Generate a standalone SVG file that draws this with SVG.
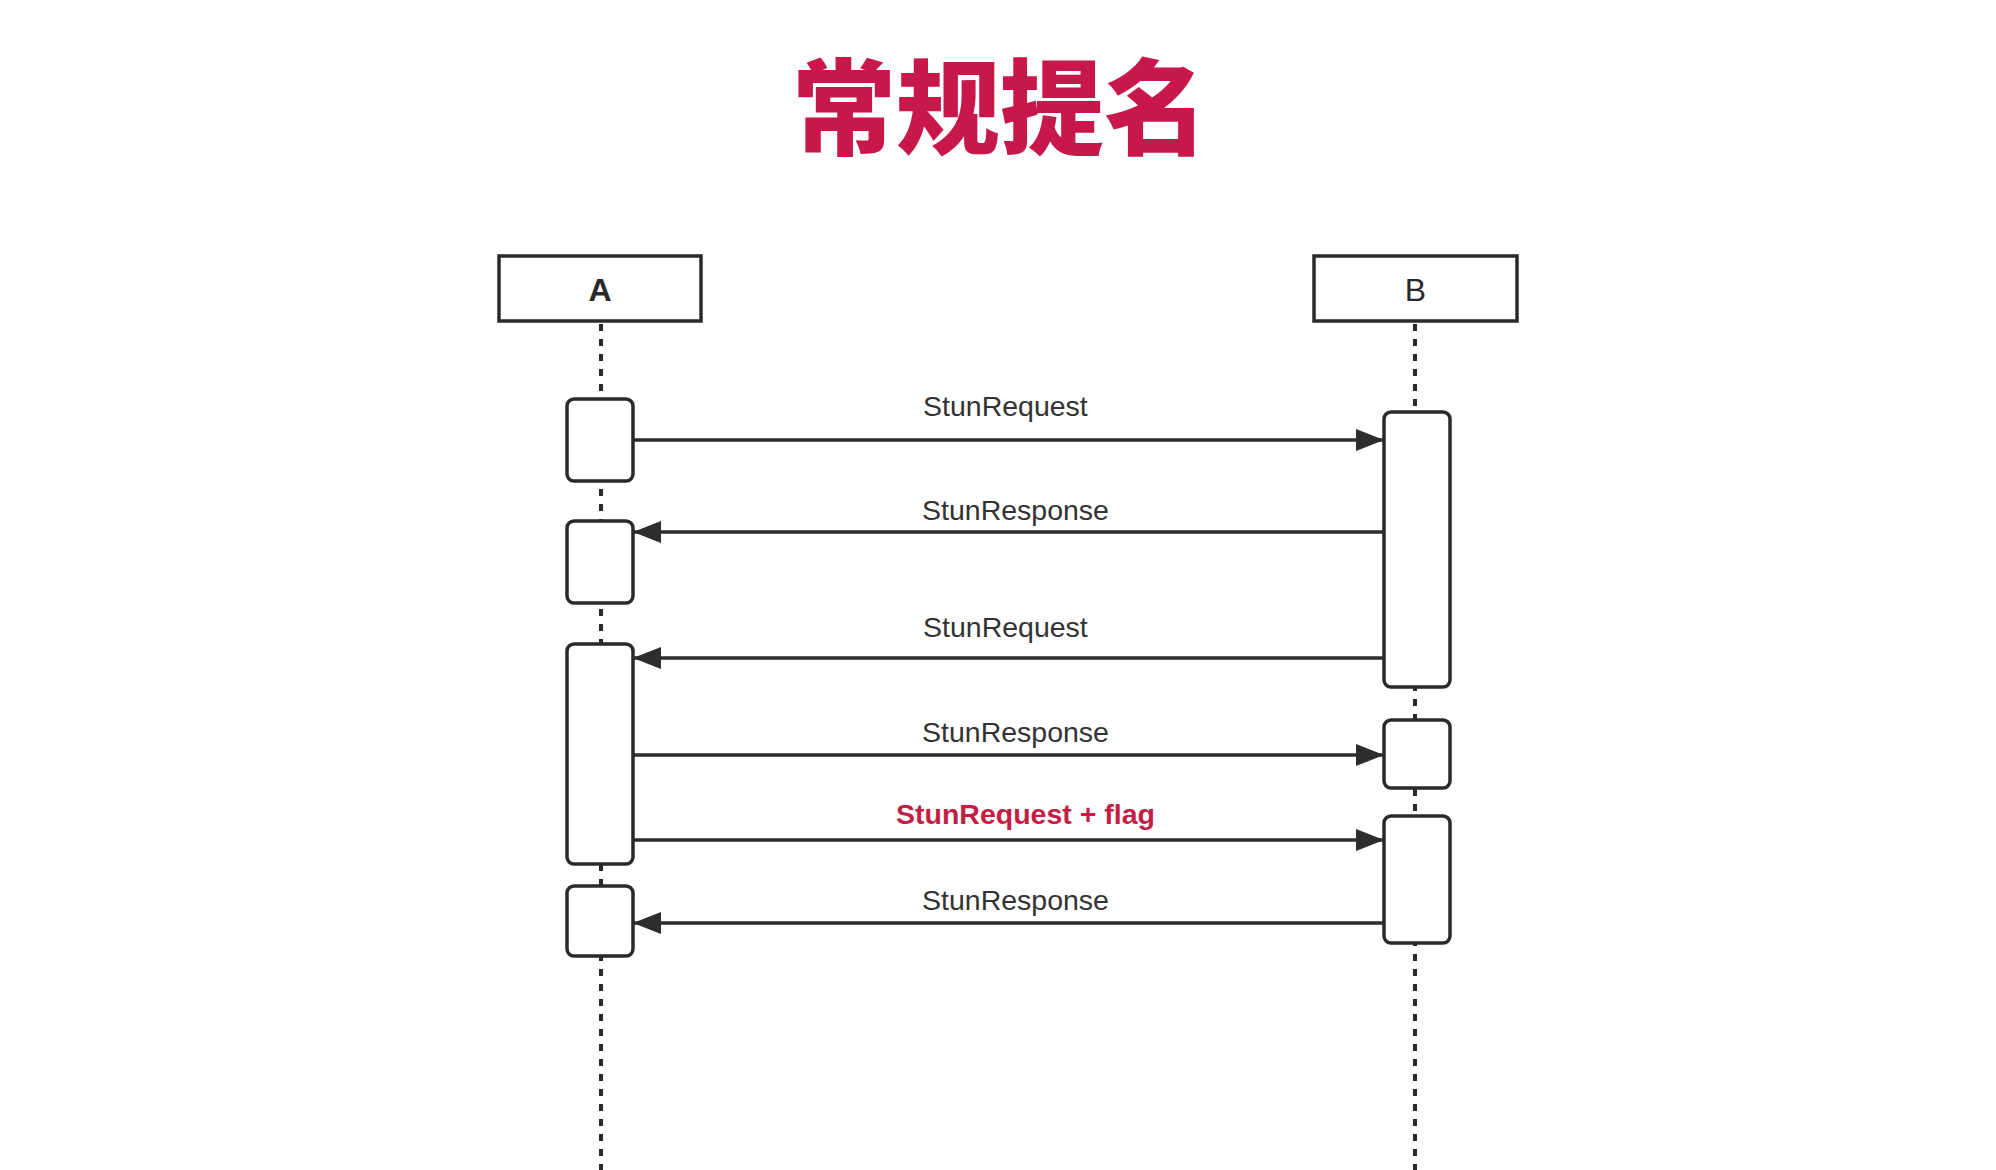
<svg xmlns="http://www.w3.org/2000/svg" width="1996" height="1170" viewBox="0 0 1996 1170">
<defs>
<style>
.title{font-family:"Noto Sans CJK SC","Noto Sans",sans-serif;font-weight:900;font-size:104px;fill:#c8174a}
.head{fill:#fff;stroke:#2a2a2a;stroke-width:3.5}
.hlabel{font-family:"Liberation Sans",Arial,sans-serif;font-size:32px;fill:#2a2a2a}
.life{stroke:#2a2a2a;stroke-width:4;stroke-dasharray:7 8;fill:none}
.act{fill:#fff;stroke:#2a2a2a;stroke-width:3.5}
.msg{stroke:#2d2d2d;stroke-width:3.3;fill:none}
.lbl{font-family:"Liberation Sans",Arial,sans-serif;font-size:28.5px;fill:#333}
.lblred{font-family:"Liberation Sans",Arial,sans-serif;font-size:28.5px;font-weight:bold;fill:#c41e45}
</style>
<marker id="arr" markerUnits="userSpaceOnUse" markerWidth="30" markerHeight="24" refX="28" refY="11" orient="auto">
<path d="M0,0 L28,11 L0,22 Z" fill="#2d2d2d"/>
</marker>
</defs>
<rect width="1996" height="1170" fill="#fff"/>
<text class="title" x="1000" y="147" text-anchor="middle">常规提名</text>

<g id="lifelines">
<line class="life" x1="601" y1="324" x2="601" y2="1170"/>
<line class="life" x1="1415" y1="324" x2="1415" y2="1170"/>
</g>

<g id="nodeA">
<rect class="head" x="499" y="256" width="202" height="65"/>
<text class="hlabel" x="600" y="301" text-anchor="middle" font-weight="bold">A</text>
</g>
<g id="nodeB">
<rect class="head" x="1314" y="256" width="203" height="65"/>
<text class="hlabel" x="1415.5" y="301" text-anchor="middle">B</text>
</g>

<g id="activations">
<rect id="a1" class="act" x="567" y="399" width="66" height="82" rx="7"/>
<rect id="a2" class="act" x="567" y="521" width="66" height="82" rx="7"/>
<rect id="a3" class="act" x="567" y="644" width="66" height="220" rx="7"/>
<rect id="a4" class="act" x="567" y="886" width="66" height="70" rx="7"/>
<rect id="b1" class="act" x="1384" y="412" width="66" height="275" rx="7"/>
<rect id="b2" class="act" x="1384" y="720" width="66" height="68" rx="7"/>
<rect id="b3" class="act" x="1384" y="816" width="66" height="127" rx="7"/>
</g>

<g id="connectors">
<line class="msg" x1="633" y1="440" x2="1384" y2="440" marker-end="url(#arr)"/>
<line class="msg" x1="1384" y1="532" x2="633" y2="532" marker-end="url(#arr)"/>
<line class="msg" x1="1384" y1="658" x2="633" y2="658" marker-end="url(#arr)"/>
<line class="msg" x1="633" y1="755" x2="1384" y2="755" marker-end="url(#arr)"/>
<line class="msg" x1="633" y1="840" x2="1384" y2="840" marker-end="url(#arr)"/>
<line class="msg" x1="1384" y1="923" x2="633" y2="923" marker-end="url(#arr)"/>
</g>

<g id="labels">
<text class="lbl" x="923" y="416">StunRequest</text>
<text class="lbl" x="922" y="520">StunResponse</text>
<text class="lbl" x="923" y="637">StunRequest</text>
<text class="lbl" x="922" y="742">StunResponse</text>
<text class="lblred" x="896" y="824">StunRequest + flag</text>
<text class="lbl" x="922" y="910">StunResponse</text>
</g>
</svg>
